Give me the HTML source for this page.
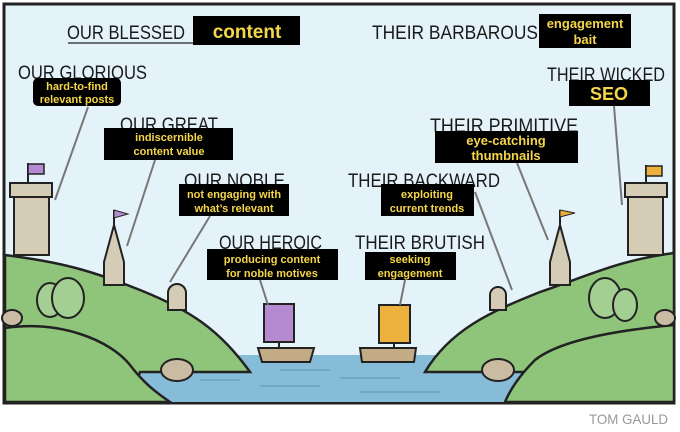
<!DOCTYPE html>
<html><head><meta charset="utf-8"><style>
html,body{margin:0;padding:0;background:#fff;width:680px;height:432px;overflow:hidden}
svg{display:block}
.h{font-family:"Liberation Sans",sans-serif;font-size:19px;fill:#1a1a1a}
.y{font-family:"Liberation Sans",sans-serif;font-weight:bold;fill:#f5d64a;text-anchor:middle}
</style></head><body>
<svg width="680" height="432" viewBox="0 0 680 432" xmlns="http://www.w3.org/2000/svg">
<rect x="4" y="4" width="670" height="399" fill="#e4f2f9" stroke="#222" stroke-width="3"/>
<rect x="120" y="355" width="440" height="47" fill="#86bcd8"/>
<g stroke="#5d94b3" stroke-width="1">
<line x1="280" y1="370" x2="330" y2="370"/><line x1="340" y1="378" x2="400" y2="378"/><line x1="260" y1="386" x2="320" y2="386"/><line x1="360" y1="392" x2="440" y2="392"/><line x1="200" y1="380" x2="240" y2="380"/><line x1="430" y1="366" x2="470" y2="366"/>
</g>
<path d="M5 255 C60 262 90 270 140 290 C190 310 220 330 250 372 L140 372 L130 402 L5 402Z" fill="#8ec57b" stroke="#222" stroke-width="2.5"/>
<path d="M5 328 C60 320 110 340 130 365 C145 385 160 395 170 402 L5 402Z" fill="#8ec57b" stroke="#222" stroke-width="2.5"/>
<path d="M674 253 C620 260 590 275 540 292 C490 312 450 330 425 372 L540 372 L560 402 L674 402Z" fill="#8ec57b" stroke="#222" stroke-width="2.5"/>
<path d="M674 325 C620 330 560 340 535 360 C520 375 510 390 505 402 L674 402Z" fill="#8ec57b" stroke="#222" stroke-width="2.5"/>
<ellipse cx="177" cy="370" rx="16" ry="11" fill="#c9bca3" stroke="#222" stroke-width="2"/>
<ellipse cx="498" cy="370" rx="16" ry="11" fill="#c9bca3" stroke="#222" stroke-width="2"/>
<ellipse cx="12" cy="318" rx="10" ry="8" fill="#c9bca3" stroke="#222" stroke-width="2"/>
<ellipse cx="665" cy="318" rx="10" ry="8" fill="#c9bca3" stroke="#222" stroke-width="2"/>
<g fill="#a4cf92" stroke="#222" stroke-width="2">
<ellipse cx="50" cy="300" rx="13" ry="17"/><ellipse cx="68" cy="298" rx="16" ry="20"/>
<ellipse cx="605" cy="298" rx="16" ry="20"/><ellipse cx="625" cy="305" rx="12" ry="16"/>
</g>
<rect x="14" y="195" width="35" height="60" fill="#d5ccb5" stroke="#222" stroke-width="2"/>
<rect x="10" y="183" width="42" height="14" fill="#d5ccb5" stroke="#222" stroke-width="2"/>
<line x1="28" y1="183" x2="28" y2="163" stroke="#222" stroke-width="2"/>
<rect x="28" y="164" width="16" height="10" fill="#b58ad0" stroke="#222" stroke-width="1.5"/>
<path d="M104 285 L104 262 L114 225 L124 262 L124 285Z" fill="#d5ccb5" stroke="#222" stroke-width="2"/>
<line x1="114" y1="225" x2="114" y2="210" stroke="#222" stroke-width="2"/>
<path d="M114 210 L128 214 L114 218Z" fill="#b58ad0" stroke="#222"/>
<path d="M168 310 L168 293 A9 9 0 0 1 186 293 L186 310Z" fill="#d5ccb5" stroke="#222" stroke-width="2"/>
<rect x="628" y="195" width="35" height="60" fill="#d5ccb5" stroke="#222" stroke-width="2"/>
<rect x="625" y="183" width="42" height="14" fill="#d5ccb5" stroke="#222" stroke-width="2"/>
<line x1="646" y1="183" x2="646" y2="165" stroke="#222" stroke-width="2"/>
<rect x="646" y="166" width="16" height="10" fill="#ecb13d" stroke="#222" stroke-width="1.5"/>
<path d="M550 285 L550 262 L560 225 L570 262 L570 285Z" fill="#d5ccb5" stroke="#222" stroke-width="2"/>
<line x1="560" y1="225" x2="560" y2="210" stroke="#222" stroke-width="2"/>
<path d="M560 210 L575 213 L560 217Z" fill="#ecb13d" stroke="#222"/>
<path d="M490 310 L490 295 A8 8 0 0 1 506 295 L506 310Z" fill="#d5ccb5" stroke="#222" stroke-width="2"/>
<path d="M258 348 L314 348 L310 362 L262 362Z" fill="#c3ab86" stroke="#222" stroke-width="2"/>
<rect x="264" y="304" width="30" height="38" fill="#b58ad0" stroke="#222" stroke-width="2"/>
<line x1="279" y1="342" x2="279" y2="348" stroke="#222" stroke-width="2"/>
<path d="M360 348 L416 348 L414 362 L362 362Z" fill="#c3ab86" stroke="#222" stroke-width="2"/>
<rect x="379" y="305" width="31" height="38" fill="#ecb13d" stroke="#222" stroke-width="2"/>
<line x1="394" y1="343" x2="394" y2="348" stroke="#222" stroke-width="2"/>
<g stroke="#777" stroke-width="2">
<line x1="88" y1="107" x2="55" y2="200"/><line x1="155" y1="160" x2="127" y2="246"/>
<line x1="210" y1="216" x2="170" y2="282"/><line x1="260" y1="280" x2="268" y2="305"/>
<line x1="405" y1="280" x2="400" y2="305"/><line x1="475" y1="192" x2="512" y2="290"/>
<line x1="517" y1="163" x2="548" y2="240"/><line x1="614" y1="106" x2="622" y2="205"/>
</g>
<text class="h" x="67" y="39" textLength="118" lengthAdjust="spacingAndGlyphs">OUR BLESSED</text>
<line x1="68" y1="43" x2="195" y2="43" stroke="#444" stroke-width="1.5"/>
<text class="h" x="372" y="39" textLength="166" lengthAdjust="spacingAndGlyphs">THEIR BARBAROUS</text>
<text class="h" x="18" y="79" textLength="129" lengthAdjust="spacingAndGlyphs">OUR GLORIOUS</text>
<text class="h" x="547" y="81" textLength="118" lengthAdjust="spacingAndGlyphs">THEIR WICKED</text>
<text class="h" x="120" y="131" textLength="98" lengthAdjust="spacingAndGlyphs">OUR GREAT</text>
<text class="h" x="430" y="132" textLength="148" lengthAdjust="spacingAndGlyphs">THEIR PRIMITIVE</text>
<text class="h" x="184" y="187" textLength="101" lengthAdjust="spacingAndGlyphs">OUR NOBLE</text>
<text class="h" x="348" y="187" textLength="152" lengthAdjust="spacingAndGlyphs">THEIR BACKWARD</text>
<text class="h" x="219" y="249" textLength="103" lengthAdjust="spacingAndGlyphs">OUR HEROIC</text>
<text class="h" x="355" y="249" textLength="130" lengthAdjust="spacingAndGlyphs">THEIR BRUTISH</text>
<rect x="193" y="16" width="107" height="29" fill="#000"/>
<text class="y" x="247" y="38" font-size="19">content</text>
<rect x="539" y="14" width="92" height="34" fill="#000"/>
<text class="y" x="585" y="28" font-size="13">engagement</text>
<text class="y" x="585" y="44" font-size="13">bait</text>
<rect x="33" y="78" width="88" height="28" rx="5" fill="#000"/>
<text class="y" x="77" y="90" font-size="11">hard-to-find</text>
<text class="y" x="77" y="103" font-size="11">relevant  posts</text>
<rect x="569" y="80" width="81" height="26" fill="#000"/>
<text class="y" x="609" y="100" font-size="18">SEO</text>
<rect x="104" y="128" width="129" height="32" fill="#000"/>
<text class="y" x="169" y="141" font-size="11">indiscernible</text>
<text class="y" x="169" y="155" font-size="11">content value</text>
<rect x="435" y="131" width="143" height="32" fill="#000"/>
<text class="y" x="506" y="145" font-size="13">eye-catching</text>
<text class="y" x="506" y="160" font-size="13">thumbnails</text>
<rect x="179" y="184" width="110" height="32" fill="#000"/>
<text class="y" x="234" y="198" font-size="11">not engaging with</text>
<text class="y" x="234" y="212" font-size="11">what’s relevant</text>
<rect x="381" y="184" width="93" height="32" fill="#000"/>
<text class="y" x="427" y="198" font-size="11">exploiting</text>
<text class="y" x="427" y="212" font-size="11">current trends</text>
<rect x="207" y="249" width="131" height="31" fill="#000"/>
<text class="y" x="272" y="263" font-size="11">producing content</text>
<text class="y" x="272" y="277" font-size="11">for noble motives</text>
<rect x="365" y="252" width="91" height="28" fill="#000"/>
<text class="y" x="410" y="263" font-size="11">seeking</text>
<text class="y" x="410" y="277" font-size="11">engagement</text>
<text x="589" y="424" font-family="Liberation Sans,sans-serif" font-size="14" fill="#999" textLength="79" lengthAdjust="spacingAndGlyphs">TOM GAULD</text>
</svg>
</body></html>
